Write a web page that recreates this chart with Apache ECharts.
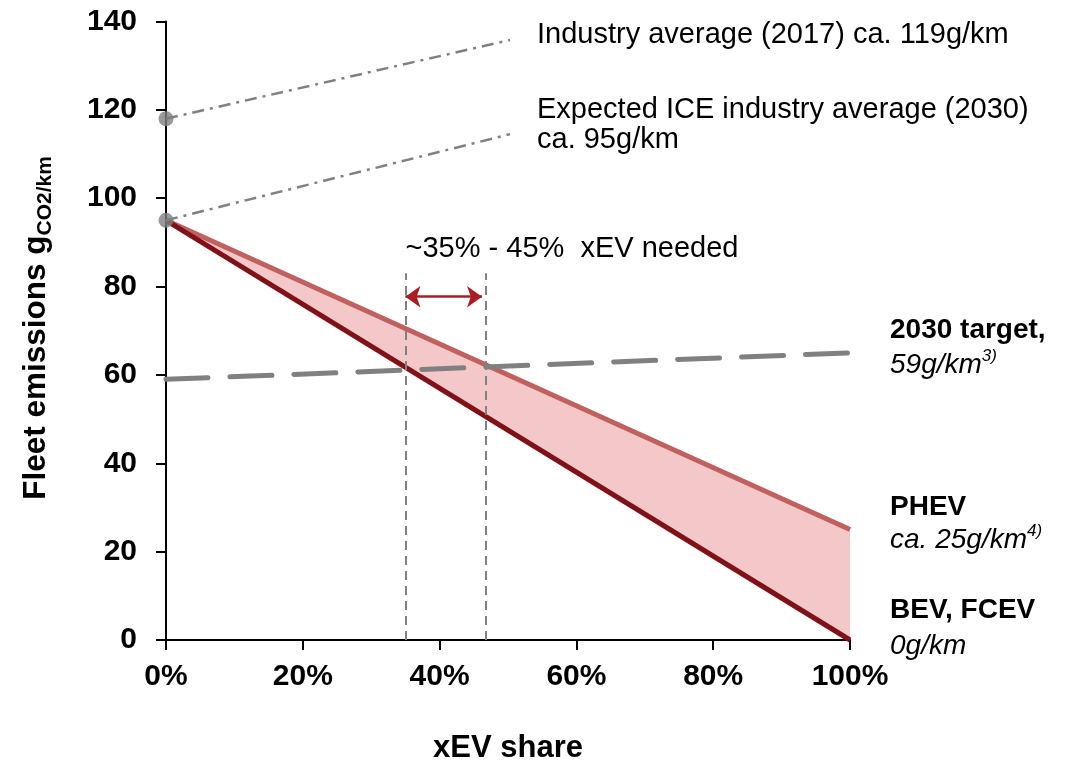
<!DOCTYPE html>
<html>
<head>
<meta charset="utf-8">
<script src="https://cdn.jsdelivr.net/npm/echarts@6/dist/echarts.min.js"></script>
<style>
  html, body { margin: 0; padding: 0; background: #ffffff; }
  #chart { width: 1076px; height: 760px; }
</style>
</head>
<body>
<div id="chart"></div>
<script>
// ---- data ----
const shares = [0, 100];                 // xEV share (%)
const phevValues = [95, 25];             // PHEV fleet emissions
const bevValues = [95, 0];               // BEV, FCEV fleet emissions
const targetValues = [59, 65];           // 2030 target dashed line
const industry2017Line = [[0, 118], [50.3, 135.8]];
const ice2030Line = [[0, 95], [50.3, 114.5]];
const startDots = [[0, 118], [0, 95]];
const neededShares = [35, 46.7];         // vertical dashed lines
const neededTop = 83;
const arrowShares = [35, 46.2];
const arrowLevel = 77.7;
const xTickLabels = ['0%', '20%', '40%', '60%', '80%', '100%'];
const yTickLabels = ['0', '20', '40', '60', '80', '100', '120', '140'];

const FONT = '"Liberation Sans", Arial, sans-serif';
const GREY = '#808080';

const chart = echarts.init(document.getElementById('chart'), null, { renderer: 'canvas' });

const pairs = (xs, ys) => xs.map((x, i) => [x, ys[i]]);

const option = {
  animation: false,
  backgroundColor: '#ffffff',
  grid: { left: 166, right: 226, top: 21.5, bottom: 120, containLabel: false },
  xAxis: {
    type: 'value', min: 0, max: 100, interval: 20,
    axisLine: { show: true, lineStyle: { color: '#000', width: 2 } },
    axisTick: { show: true, length: 10, lineStyle: { color: '#000', width: 2 } },
    splitLine: { show: false },
    axisLabel: {
      margin: 22, color: '#000', fontFamily: FONT, fontWeight: 'bold', fontSize: 30,
      formatter: v => xTickLabels[Math.round(v / 20)]
    }
  },
  yAxis: {
    type: 'value', min: 0, max: 140, interval: 20,
    axisLine: { show: true, lineStyle: { color: '#000', width: 2 } },
    axisTick: { show: true, length: 10, lineStyle: { color: '#000', width: 2 } },
    splitLine: { show: false },
    axisLabel: {
      margin: 29, color: '#000', fontFamily: FONT, fontWeight: 'bold', fontSize: 30,
      formatter: v => yTickLabels[Math.round(v / 20)]
    }
  },
  series: [
    {
      name: 'band', type: 'custom', silent: true, z: 1,
      data: [[0]],
      renderItem: (params, api) => {
        const upper = pairs(shares, phevValues).map(p => api.coord(p));
        const lower = pairs(shares, bevValues).map(p => api.coord(p)).reverse();
        return {
          type: 'polygon',
          shape: { points: upper.concat(lower) },
          style: { fill: '#f4c7c8', stroke: null }
        };
      }
    },
    {
      name: 'needed', type: 'line', data: [], z: 2, silent: true,
      markLine: {
        silent: true, symbol: 'none', label: { show: false }, animation: false,
        lineStyle: { color: GREY, width: 2, type: [9, 6] },
        data: neededShares.map(s => [{ coord: [s, 0] }, { coord: [s, neededTop] }])
      }
    },
    {
      name: 'PHEV', type: 'line', data: pairs(shares, phevValues), symbol: 'none', clip: false,
      lineStyle: { color: '#c0605f', width: 5 }, z: 3
    },
    {
      name: 'BEV', type: 'line', data: pairs(shares, bevValues), symbol: 'none', clip: false,
      lineStyle: { color: '#7f1118', width: 5 }, z: 3
    },
    {
      name: 'target', type: 'line', data: pairs(shares, targetValues), symbol: 'none', clip: false,
      lineStyle: { color: GREY, width: 5, type: [42, 22], cap: 'round' }, z: 4
    },
    {
      name: 'industry2017', type: 'line', data: industry2017Line, symbol: 'none', clip: false,
      lineStyle: { color: GREY, width: 2.5, type: [12, 6, 3, 6] }, z: 4
    },
    {
      name: 'ice2030', type: 'line', data: ice2030Line, symbol: 'none', clip: false,
      lineStyle: { color: GREY, width: 2.5, type: [12, 6, 3, 6] }, z: 4
    },
    {
      name: 'arrow', type: 'line', data: [], z: 5, silent: true,
      markLine: {
        silent: true, symbol: ['arrow', 'arrow'], symbolSize: [16, 15],
        label: { show: false }, animation: false,
        lineStyle: { color: '#a81f23', width: 2.5, type: 'solid' },
        data: [[{ coord: [arrowShares[0], arrowLevel] }, { coord: [arrowShares[1], arrowLevel] }]]
      }
    },
    {
      name: 'dots', type: 'scatter', data: startDots, symbolSize: 15, clip: false,
      itemStyle: { color: GREY }, z: 6, silent: true
    }
  ],
  graphic: [
    {
      type: 'text', x: 36.3, y: 328, rotation: Math.PI / 2, z: 10,
      style: {
        text: '{a|Fleet emissions g}{b|CO2/km}', align: 'center', verticalAlign: 'middle',
        rich: {
          a: { fontFamily: FONT, fontWeight: 'bold', fontSize: 31.5, lineHeight: 38, fill: '#000' },
          b: { fontFamily: FONT, fontWeight: 'bold', fontSize: 21, lineHeight: 18, verticalAlign: 'bottom', fill: '#000' }
        }
      }
    },
    {
      type: 'text', x: 508, y: 748, z: 10,
      style: { text: 'xEV share', align: 'center', verticalAlign: 'middle',
        fontFamily: FONT, fontWeight: 'bold', fontSize: 31, fill: '#000' }
    },
    {
      type: 'text', x: 537, y: 35, z: 10,
      style: { text: 'Industry average (2017) ca. 119g/km', align: 'left', verticalAlign: 'middle',
        fontFamily: FONT, fontSize: 29, fill: '#000' }
    },
    {
      type: 'text', x: 537, y: 110, z: 10,
      style: { text: 'Expected ICE industry average (2030)', align: 'left', verticalAlign: 'middle',
        fontFamily: FONT, fontSize: 29, fill: '#000' }
    },
    {
      type: 'text', x: 537, y: 140, z: 10,
      style: { text: 'ca. 95g/km', align: 'left', verticalAlign: 'middle',
        fontFamily: FONT, fontSize: 29, fill: '#000' }
    },
    {
      type: 'text', x: 405.5, y: 248.5, z: 10,
      style: { text: '~35% - 45%  xEV needed', align: 'left', verticalAlign: 'middle',
        fontFamily: FONT, fontSize: 29, fill: '#000' }
    },
    {
      type: 'text', x: 890, y: 330, z: 10,
      style: { text: '2030 target,', align: 'left', verticalAlign: 'middle',
        fontFamily: FONT, fontWeight: 'bold', fontSize: 28, fill: '#000' }
    },
    {
      type: 'text', x: 890, y: 365, z: 10,
      style: {
        text: '{m|59g/km}{s|3)}', align: 'left', verticalAlign: 'middle',
        rich: {
          m: { fontFamily: FONT, fontStyle: 'italic', fontSize: 28, lineHeight: 34, fill: '#000' },
          s: { fontFamily: FONT, fontStyle: 'italic', fontSize: 17, lineHeight: 26, verticalAlign: 'top', fill: '#000' }
        }
      }
    },
    {
      type: 'text', x: 890, y: 507, z: 10,
      style: { text: 'PHEV', align: 'left', verticalAlign: 'middle',
        fontFamily: FONT, fontWeight: 'bold', fontSize: 28, fill: '#000' }
    },
    {
      type: 'text', x: 890, y: 540, z: 10,
      style: {
        text: '{m|ca. 25g/km}{s|4)}', align: 'left', verticalAlign: 'middle',
        rich: {
          m: { fontFamily: FONT, fontStyle: 'italic', fontSize: 28, lineHeight: 34, fill: '#000' },
          s: { fontFamily: FONT, fontStyle: 'italic', fontSize: 17, lineHeight: 26, verticalAlign: 'top', fill: '#000' }
        }
      }
    },
    {
      type: 'text', x: 890, y: 610.5, z: 10,
      style: { text: 'BEV, FCEV', align: 'left', verticalAlign: 'middle',
        fontFamily: FONT, fontWeight: 'bold', fontSize: 28, fill: '#000' }
    },
    {
      type: 'text', x: 890, y: 646, z: 10,
      style: { text: '0g/km', align: 'left', verticalAlign: 'middle',
        fontFamily: FONT, fontStyle: 'italic', fontSize: 28, fill: '#000' }
    }
  ]
};

chart.setOption(option);
</script>
</body>
</html>
